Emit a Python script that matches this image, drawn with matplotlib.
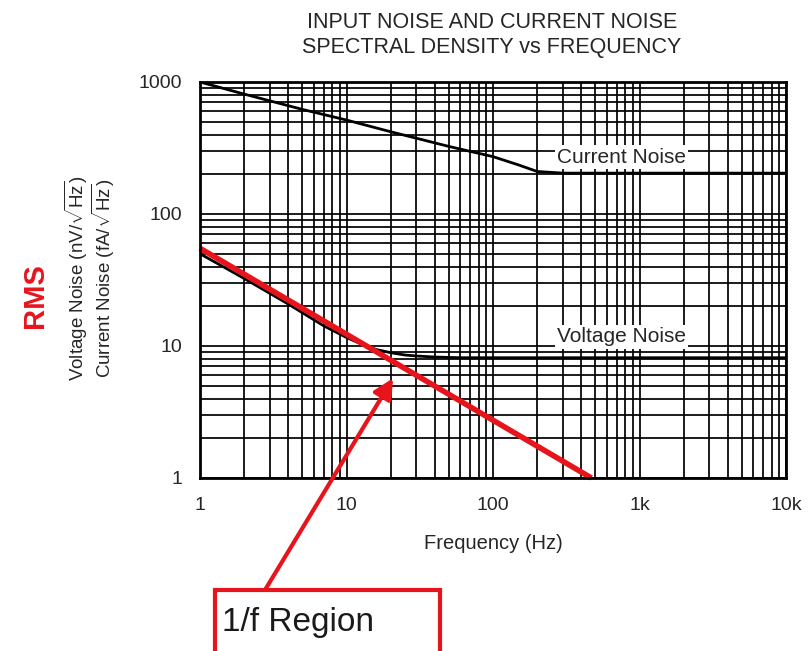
import matplotlib
matplotlib.use("Agg")
import matplotlib.pyplot as plt
from matplotlib.patches import Rectangle

plt.rcParams['font.family'] = ['Liberation Sans', 'DejaVu Sans']
plt.rcParams['mathtext.fontset'] = 'custom'
plt.rcParams['mathtext.rm'] = 'Liberation Sans'
plt.rcParams['mathtext.it'] = 'Liberation Sans:italic'

# data
current_freq = [1, 2, 5, 10, 20, 50, 100, 150, 200, 300, 1000, 10000]
current_noise = [1000, 810, 620, 515, 420, 325, 272, 235, 210, 204, 204, 204]

voltage_freq = [1, 2, 4, 7, 10, 13, 16, 20, 25, 30, 40, 60, 100, 1000, 10000]
voltage_noise = [50, 32.5, 20.8, 14.2, 11.6, 10.2, 9.4, 8.9, 8.55, 8.4, 8.25, 8.15,
                 8.15, 8.15, 8.15]

one_over_f_freq = [1, 470]
one_over_f_noise = [55, 1]

x_ticks = [1, 10, 100, 1000, 10000]
x_labels = ["1", "10", "100", "1k", "10k"]
y_ticks = [1, 10, 100, 1000]
y_labels = ["1", "10", "100", "1000"]

RED = "#e8141c"
TXT = "#262626"

fig = plt.figure(figsize=(8.08, 6.51), dpi=100)
ax = fig.add_axes([200 / 808, 1 - 478 / 651, 586 / 808, 396 / 651])
ax.set_xscale("log")
ax.set_yscale("log")
ax.set_xlim(1, 10000)
ax.set_ylim(1, 1000)

ax.grid(True, which="both", color="black", linewidth=1.25)
ax.set_axisbelow(True)
for s in ax.spines.values():
    s.set_linewidth(2)

ax.plot(current_freq, current_noise, color="black", lw=2)
ax.plot(voltage_freq, voltage_noise, color="black", lw=2)
ax.plot(one_over_f_freq, one_over_f_noise, color=RED, lw=4, clip_on=False,
        solid_capstyle="butt")

ax.set_xticks(x_ticks)
ax.set_xticklabels(x_labels)
ax.set_yticks(y_ticks)
ax.set_yticklabels(y_labels)
ax.tick_params(which="both", length=0, labelsize=14, colors=TXT)
ax.tick_params(axis="x", pad=14)
ax.tick_params(axis="y", pad=13)
ax.set_xlabel("Frequency (Hz)", fontsize=14.5, color=TXT, labelpad=14)

ax.text(750, 270, "Current Noise", fontsize=15, color=TXT, ha="center", va="center",
        bbox=dict(fc="white", ec="none", pad=1.5))
ax.text(750, 11.7, "Voltage Noise", fontsize=15, color=TXT, ha="center", va="center",
        bbox=dict(fc="white", ec="none", pad=1.5))

fig.text(492 / 808, 1 - 35 / 651,
         "INPUT NOISE AND CURRENT NOISE\nSPECTRAL DENSITY vs FREQUENCY",
         ha="center", va="center", fontsize=15.5, color=TXT, linespacing=1.2)

fig.text(76 / 808, 1 - 278 / 651, "Voltage Noise (nV/$\\sqrt{\\mathrm{Hz}}$)",
         rotation=90, ha="center", va="center", fontsize=13.5, color=TXT)
fig.text(103 / 808, 1 - 278 / 651, "Current Noise (fA/$\\sqrt{\\mathrm{Hz}}$)",
         rotation=90, ha="center", va="center", fontsize=13.5, color=TXT)
fig.text(35 / 808, 1 - 296 / 651, "RMS", rotation=90, ha="center", va="center",
         fontsize=21, fontweight="bold", color=RED)

# arrow pointing at the 1/f corner
ax.annotate("", xy=(20.8, 5.7), xytext=(265, 651 - 590), textcoords="figure pixels",
            arrowprops=dict(arrowstyle="-|>", color=RED, lw=3, mutation_scale=30,
                            shrinkA=0, shrinkB=0),
            annotation_clip=False)

fig.patches.append(Rectangle((215 / 808, -0.05), 225 / 808, 0.05 + 61 / 651,
                             transform=fig.transFigure, fill=False, ec=RED, lw=3))
fig.text(222 / 808, 1 - 622 / 651, "1/f Region", ha="left", va="center",
         fontsize=24, color="#1a1a1a")

fig.savefig("out.png", dpi=100)
